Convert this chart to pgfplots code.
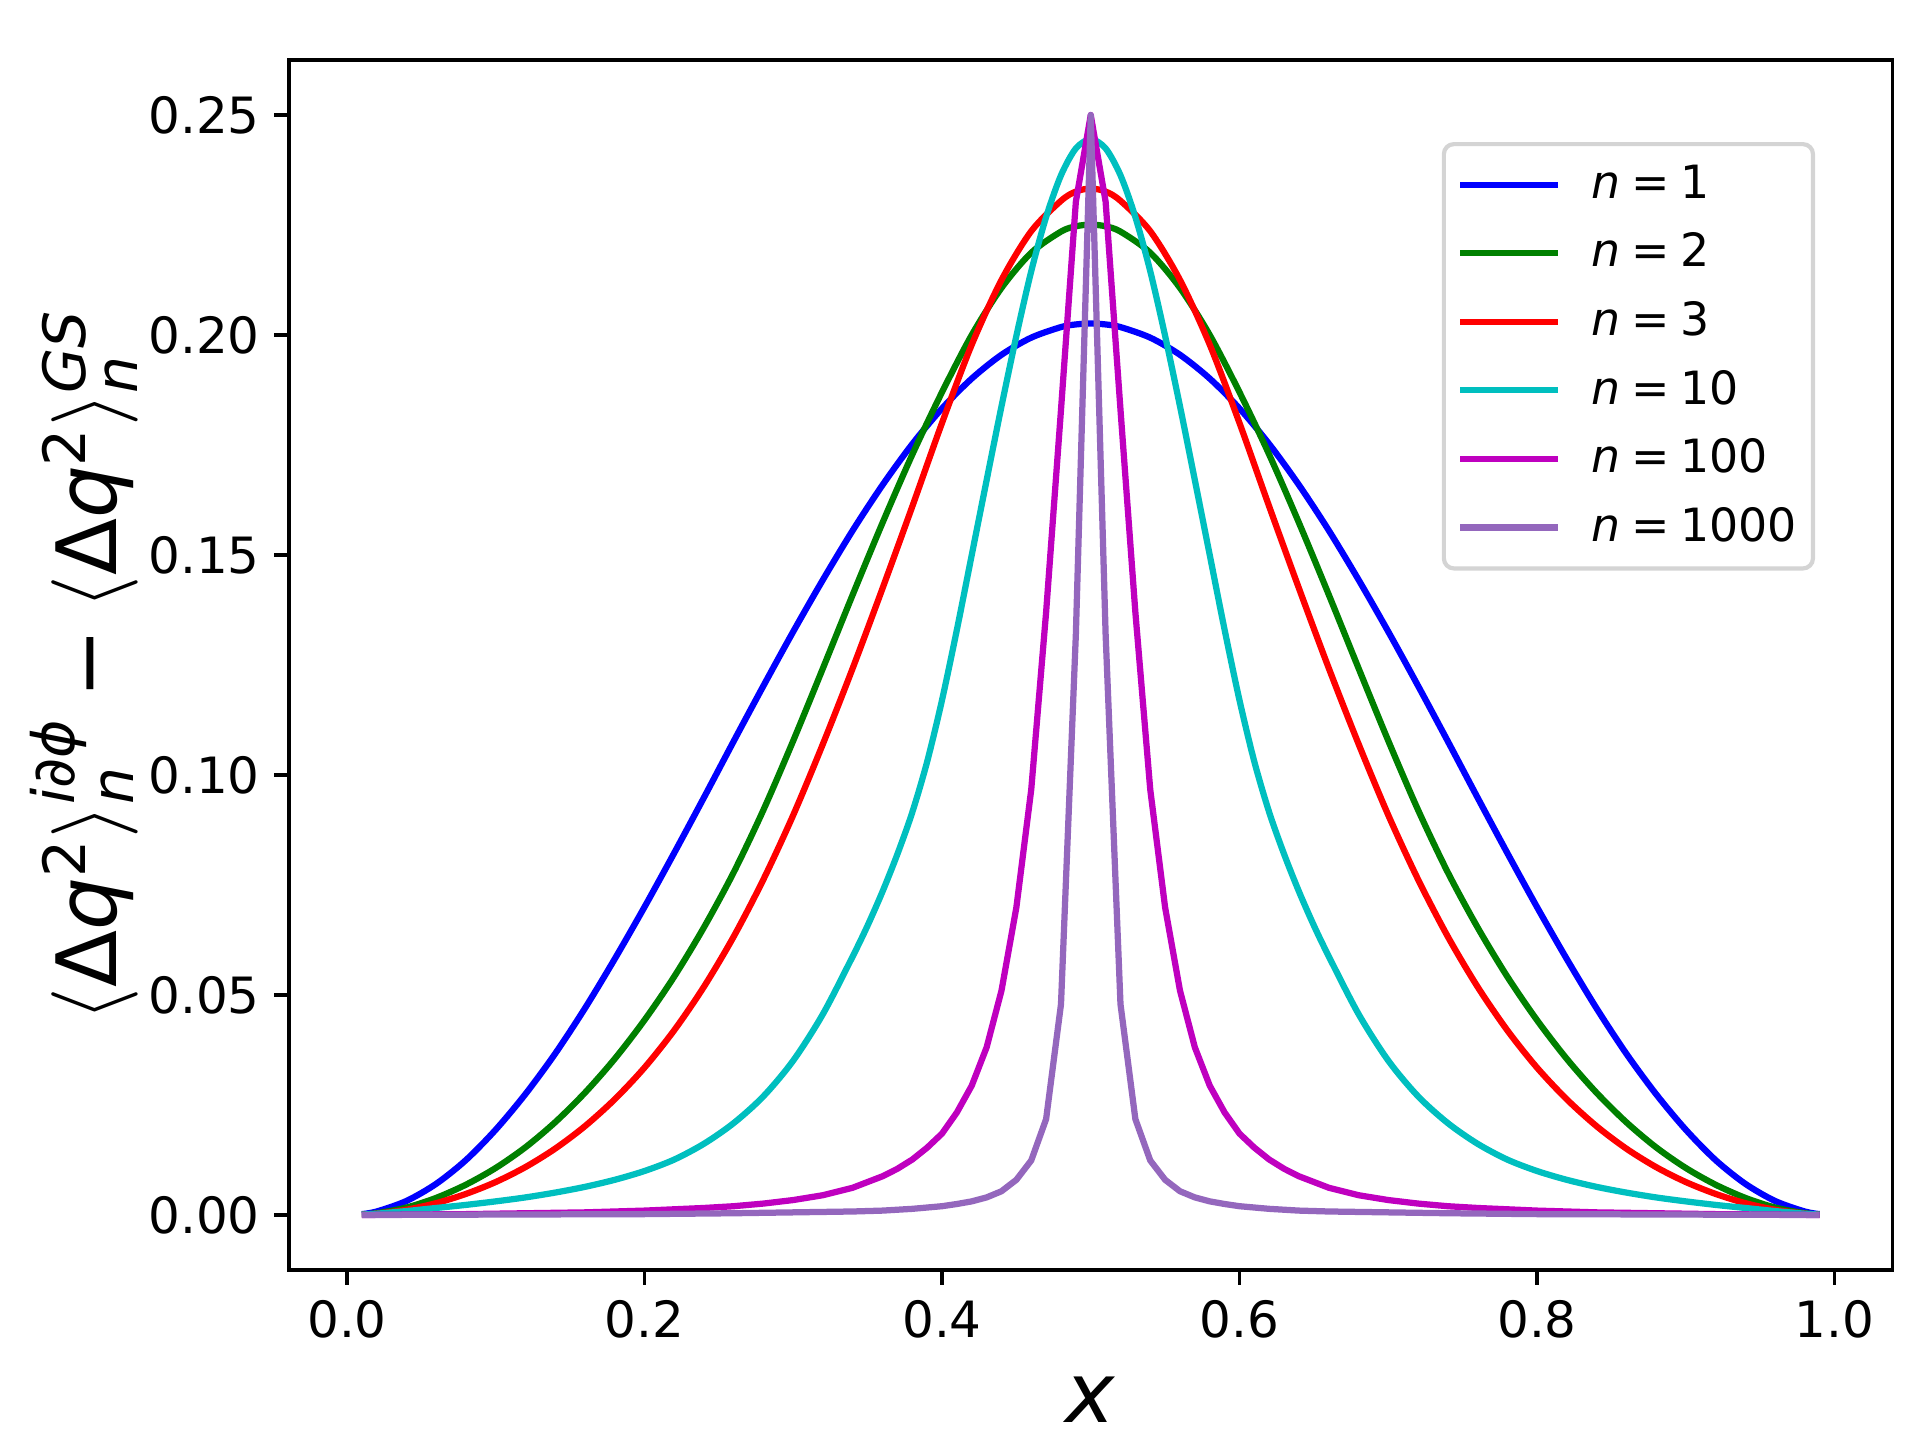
\documentclass[border=0pt]{standalone}
\usepackage{fontspec}
\setmainfont{DejaVu Sans}
\usepackage{amsmath}
\usepackage{pgfplots}
\pgfplotsset{compat=1.18}
\usepackage{pgfplotstable}
\definecolor{mplblue}{rgb}{0,0,1}
\definecolor{mplgreen}{rgb}{0,0.5,0}
\definecolor{mplred}{rgb}{1,0,0}
\definecolor{mplcyan}{rgb}{0,0.75,0.75}
\definecolor{mplmag}{rgb}{0.75,0,0.75}
\definecolor{mplpurple}{HTML}{9467BD}
\newcommand{\leg}[1]{\textit{n}\hspace{2.6pt}=\hspace{2.6pt}#1}

\pgfplotstableread{
x y
0.01 0.0002
0.02 0.0008
0.04 0.0032
0.06 0.0071
0.08 0.0125
0.10 0.0194
0.12 0.0275
0.14 0.0367
0.16 0.0470
0.18 0.0582
0.20 0.0700
0.22 0.0823
0.24 0.0949
0.26 0.1077
0.28 0.1203
0.30 0.1326
0.32 0.1444
0.34 0.1556
0.36 0.1659
0.38 0.1752
0.40 0.1833
0.42 0.1901
0.44 0.1955
0.46 0.1994
0.48 0.2018
0.49 0.2024
0.50 0.2026
0.51 0.2024
0.52 0.2018
0.54 0.1994
0.56 0.1955
0.58 0.1901
0.60 0.1833
0.62 0.1752
0.64 0.1659
0.66 0.1556
0.68 0.1444
0.70 0.1326
0.72 0.1203
0.74 0.1077
0.76 0.0949
0.78 0.0823
0.80 0.0700
0.82 0.0582
0.84 0.0470
0.86 0.0367
0.88 0.0275
0.90 0.0194
0.92 0.0125
0.94 0.0071
0.96 0.0032
0.98 0.0008
0.99 0.0002
}\tA

\pgfplotstableread{
x y
0.01 0.0001
0.02 0.0004
0.04 0.0017
0.06 0.0039
0.08 0.0069
0.10 0.0107
0.12 0.0154
0.14 0.0211
0.16 0.0278
0.18 0.0355
0.20 0.0443
0.22 0.0542
0.24 0.0654
0.26 0.0779
0.28 0.0921
0.30 0.1078
0.32 0.1243
0.34 0.1410
0.36 0.1573
0.38 0.1728
0.40 0.1870
0.42 0.2000
0.44 0.2107
0.46 0.2187
0.48 0.2235
0.49 0.2247
0.50 0.2251
0.51 0.2247
0.52 0.2235
0.54 0.2187
0.56 0.2107
0.58 0.2000
0.60 0.1870
0.62 0.1728
0.64 0.1573
0.66 0.1410
0.68 0.1243
0.70 0.1078
0.72 0.0921
0.74 0.0779
0.76 0.0654
0.78 0.0542
0.80 0.0443
0.82 0.0355
0.84 0.0278
0.86 0.0211
0.88 0.0154
0.90 0.0107
0.92 0.0069
0.94 0.0039
0.96 0.0017
0.98 0.0004
0.99 0.0001
}\tB

\pgfplotstableread{
x y
0.01 0.0001
0.02 0.0003
0.04 0.0012
0.06 0.0027
0.08 0.0048
0.10 0.0075
0.12 0.0109
0.14 0.0151
0.16 0.0202
0.18 0.0263
0.20 0.0335
0.22 0.0420
0.24 0.0519
0.26 0.0633
0.28 0.0763
0.30 0.0909
0.32 0.1071
0.34 0.1243
0.36 0.1424
0.38 0.1610
0.40 0.1800
0.42 0.1978
0.44 0.2125
0.46 0.2236
0.48 0.2305
0.49 0.2326
0.50 0.2333
0.51 0.2326
0.52 0.2305
0.54 0.2236
0.56 0.2125
0.58 0.1978
0.60 0.1800
0.62 0.1610
0.64 0.1424
0.66 0.1243
0.68 0.1071
0.70 0.0909
0.72 0.0763
0.74 0.0633
0.76 0.0519
0.78 0.0420
0.80 0.0335
0.82 0.0263
0.84 0.0202
0.86 0.0151
0.88 0.0109
0.90 0.0075
0.92 0.0048
0.94 0.0027
0.96 0.0012
0.98 0.0003
0.99 0.0001
}\tC

\pgfplotstableread{
x y
0.01 0.0001
0.02 0.0003
0.04 0.0009
0.06 0.0016
0.08 0.0023
0.10 0.0031
0.12 0.0040
0.14 0.0051
0.16 0.0064
0.18 0.0080
0.20 0.0100
0.22 0.0126
0.24 0.0162
0.26 0.0209
0.28 0.0270
0.30 0.0351
0.32 0.0457
0.34 0.0588
0.35 0.0658
0.36 0.0735
0.37 0.0820
0.38 0.0915
0.39 0.1030
0.40 0.1170
0.41 0.1330
0.42 0.1500
0.43 0.1670
0.44 0.1838
0.45 0.1998
0.46 0.2145
0.47 0.2268
0.48 0.2363
0.49 0.2424
0.50 0.2445
0.51 0.2424
0.52 0.2363
0.53 0.2268
0.54 0.2145
0.55 0.1998
0.56 0.1838
0.57 0.1670
0.58 0.1500
0.59 0.1330
0.60 0.1170
0.61 0.1030
0.62 0.0915
0.63 0.0820
0.64 0.0735
0.65 0.0658
0.66 0.0588
0.68 0.0457
0.70 0.0351
0.72 0.0270
0.74 0.0209
0.76 0.0162
0.78 0.0126
0.80 0.0100
0.82 0.0080
0.84 0.0064
0.86 0.0051
0.88 0.0040
0.90 0.0031
0.92 0.0023
0.94 0.0016
0.96 0.0009
0.98 0.0003
0.99 0.0001
}\tD

\pgfplotstableread{
x y
0.01 0.0000
0.04 0.0001
0.08 0.0002
0.12 0.0004
0.16 0.0006
0.20 0.0010
0.24 0.0016
0.26 0.0020
0.28 0.0026
0.30 0.0034
0.32 0.0045
0.34 0.0062
0.36 0.0088
0.37 0.0105
0.38 0.0126
0.39 0.0153
0.40 0.0185
0.41 0.0233
0.42 0.0294
0.43 0.0381
0.44 0.0510
0.45 0.0699
0.46 0.0967
0.47 0.1370
0.48 0.1830
0.49 0.2303
0.50 0.2500
0.51 0.2303
0.52 0.1830
0.53 0.1370
0.54 0.0967
0.55 0.0699
0.56 0.0510
0.57 0.0381
0.58 0.0294
0.59 0.0233
0.60 0.0185
0.61 0.0153
0.62 0.0126
0.63 0.0105
0.64 0.0088
0.66 0.0062
0.68 0.0045
0.70 0.0034
0.72 0.0026
0.74 0.0020
0.76 0.0016
0.80 0.0010
0.84 0.0006
0.88 0.0004
0.92 0.0002
0.96 0.0001
0.99 0.0000
}\tE

\pgfplotstableread{
x y
0.01 0.0000
0.10 0.0001
0.20 0.0002
0.26 0.0004
0.30 0.0006
0.34 0.0008
0.36 0.0010
0.38 0.0014
0.39 0.0017
0.40 0.0020
0.41 0.0025
0.42 0.0031
0.43 0.0040
0.44 0.0054
0.45 0.0080
0.46 0.0124
0.47 0.0218
0.48 0.0479
0.49 0.1320
0.50 0.2500
0.51 0.1320
0.52 0.0479
0.53 0.0218
0.54 0.0124
0.55 0.0080
0.56 0.0054
0.57 0.0040
0.58 0.0031
0.59 0.0025
0.60 0.0020
0.61 0.0017
0.62 0.0014
0.64 0.0010
0.66 0.0008
0.70 0.0006
0.74 0.0004
0.80 0.0002
0.90 0.0001
0.99 0.0000
}\tF

\begin{document}
\begin{tikzpicture}
\begin{axis}[
  at={(0pt,0pt)}, anchor=south west,
  scale only axis, width=384.84pt, height=290.4pt,
  xmin=-0.039, xmax=1.039, ymin=-0.0125, ymax=0.2625,
  xtick={0,0.2,0.4,0.6,0.8,1.0},
  ytick={0,0.05,0.1,0.15,0.2,0.25},
  scaled ticks=false,
  /pgf/number format/assume math mode=true,
  x tick label style={/pgf/number format/fixed, /pgf/number format/fixed zerofill, /pgf/number format/precision=1, yshift=-3.5pt},
  y tick label style={/pgf/number format/fixed, /pgf/number format/fixed zerofill, /pgf/number format/precision=2, xshift=-3.3pt},
  tick label style={font=\fontsize{12}{14}\selectfont, inner sep=0pt},
  tick align=outside, tick pos=left,
  major tick length=3.5pt,
  major tick style={black, line width=0.8pt},
  axis line style={black, line width=0.8pt},
  xlabel={\textit{x}},
  xlabel style={font=\fontsize{20}{24}\selectfont, at={(axis description cs:0.5,-0.1074)}, anchor=center},
  ylabel={$\langle\text{Δ}\textit{q}^{\text{2}}\rangle_{\textit{n}}^{\textit{i∂ϕ}}\mathbin{\text{−}}\langle\text{Δ}\textit{q}^{\text{2}}\rangle_{\textit{n}}^{\textit{GS}}$},
  ylabel style={font=\fontsize{20}{24}\selectfont, at={(axis description cs:-0.1277,0.5)}, anchor=center},
  every axis plot/.append style={line width=1.5pt, line join=round},
  legend cell align=left,
  legend image code/.code={\draw[#1, line cap=rect] (0pt,0pt) -- (22pt,0pt);},
  legend style={
    at={(0.9517,0.9322)}, anchor=north east,
    draw=black!17, line width=1pt, rounded corners=2.4pt,
    fill=white, fill opacity=0.8, text opacity=1,
    font=\fontsize{11}{13}\selectfont,
    inner xsep=3.8pt, inner ysep=5.0pt,
    row sep=6.8pt,
    nodes={inner sep=0pt},
    /tikz/every odd column/.append style={column sep=8.1pt},
  },
]
\addplot[mplblue, smooth] table[x=x,y=y] {\tA};
\addlegendentry{\leg{1}}
\addplot[mplgreen, smooth] table[x=x,y=y] {\tB};
\addlegendentry{\leg{2}}
\addplot[mplred, smooth] table[x=x,y=y] {\tC};
\addlegendentry{\leg{3}}
\addplot[mplcyan, smooth] table[x=x,y=y] {\tD};
\addlegendentry{\leg{10}}
\addplot[mplmag] table[x=x,y=y] {\tE};
\addlegendentry{\leg{100}}
\addplot[mplpurple] table[x=x,y=y] {\tF};
\addlegendentry{\leg{1000}}
\end{axis}
\pgfresetboundingbox
\path[use as bounding box] (-69.36pt,-41.52pt) rectangle (389.52pt,304.8pt);
\end{tikzpicture}
\end{document}
